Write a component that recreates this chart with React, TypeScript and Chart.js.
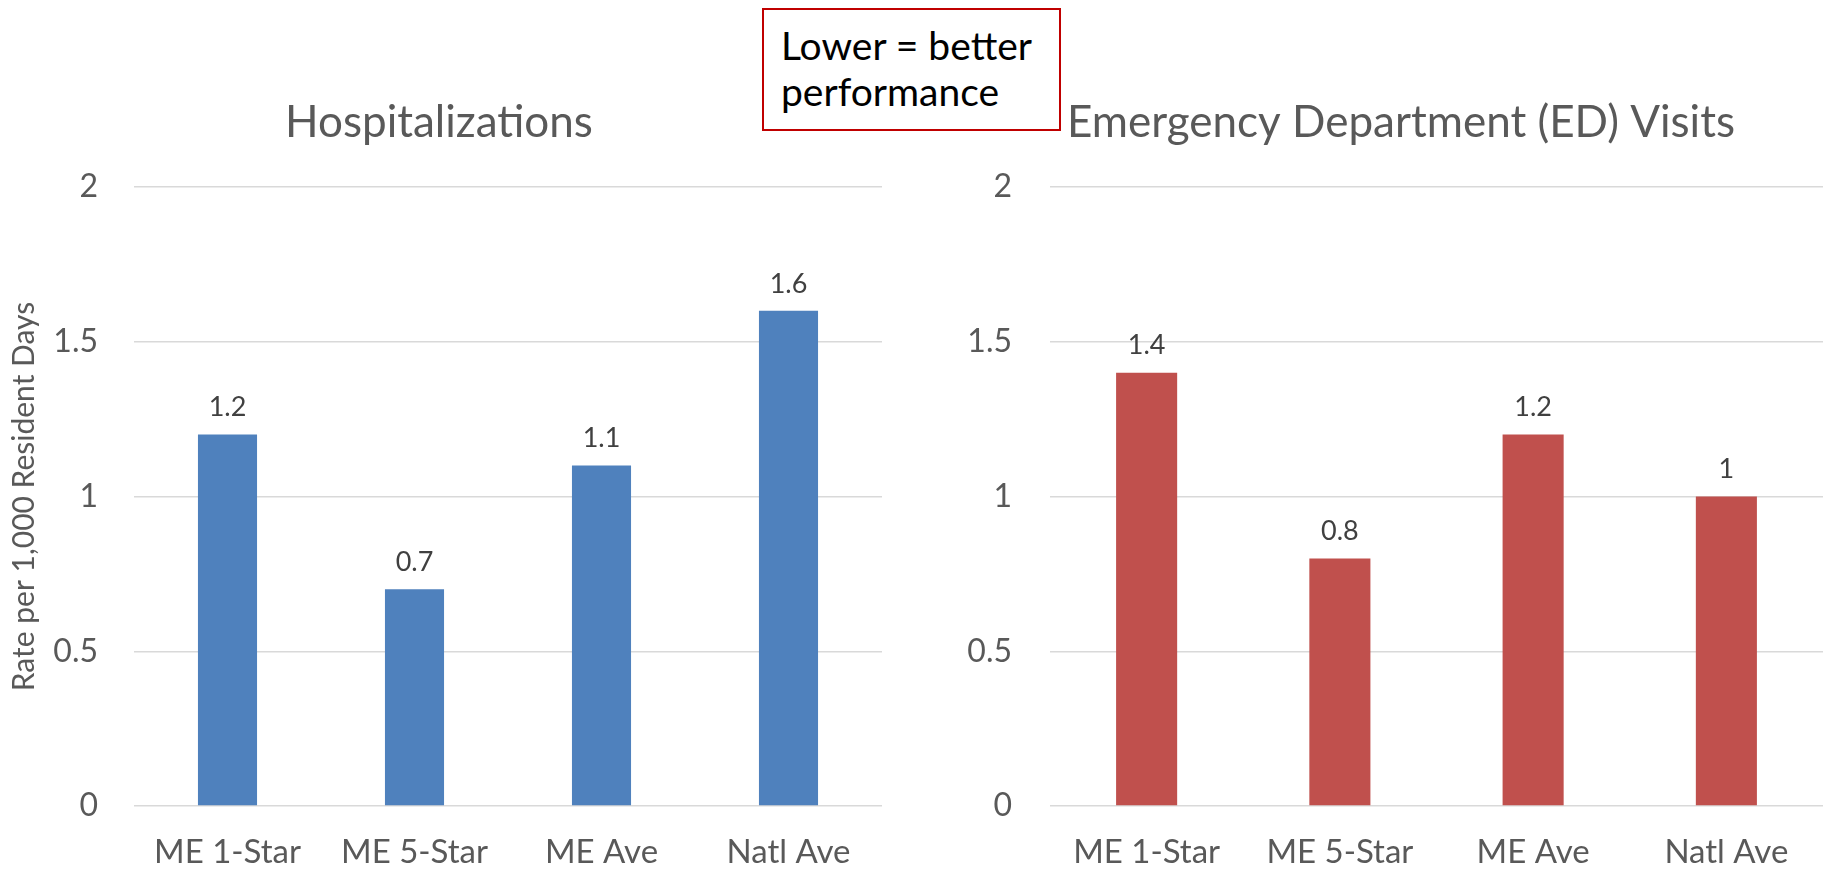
import React, { useEffect, useRef } from 'react';
import { Chart, registerables } from 'chart.js';

Chart.register(...registerables);

const categories = ['ME 1-Star', 'ME 5-Star', 'ME Ave', 'Natl Ave'];
const hospitalizations = [1.2, 0.7, 1.1, 1.6];
const edVisits = [1.4, 0.8, 1.2, 1.0];
const yMin = 0;
const yMax = 2;
const yStep = 0.5;
const leftTitle = 'Hospitalizations';
const rightTitle = 'Emergency Department (ED) Visits';
const yAxisTitle = 'Rate per 1,000 Resident Days';
const noteLines = ['Lower = better', 'performance'];

const FONT = 'Lato, "Open Sans", sans-serif';
const TEXT = '#595959';
const GRID = '#D9D9D9';

const valueLabels = {
  id: 'valueLabels',
  afterDatasetsDraw(chart: any) {
    const { ctx } = chart;
    const meta = chart.getDatasetMeta(0);
    const data = chart.data.datasets[0].data;
    ctx.save();
    ctx.font = `27px ${FONT}`;
    ctx.fillStyle = '#404040';
    ctx.textAlign = 'center';
    ctx.textBaseline = 'middle';
    meta.data.forEach((el: any, i: number) => {
      ctx.fillText(String(data[i]), el.x, el.y - 27);
    });
    ctx.restore();
  },
};

const panelTitle = {
  id: 'panelTitle',
  afterDraw(chart: any, _args: any, opts: any) {
    if (!opts || !opts.text) return;
    const { ctx } = chart;
    ctx.save();
    ctx.font = `${opts.size}px ${FONT}`;
    ctx.fillStyle = TEXT;
    ctx.textAlign = 'center';
    ctx.textBaseline = 'middle';
    ctx.fillText(opts.text, opts.x, opts.y);
    ctx.restore();
  },
};

function makeConfig(
  values: number[],
  color: string,
  title: string,
  titleX: number,
  showYTitle: boolean,
  padRight: number,
  tickPad: number
): any {
  return {
    type: 'bar',
    data: {
      labels: categories,
      datasets: [
        {
          data: values,
          backgroundColor: color,
          borderWidth: 0,
          barPercentage: 0.316,
          categoryPercentage: 1,
        },
      ],
    },
    plugins: [valueLabels, panelTitle],
    options: {
      responsive: false,
      animation: false,
      layout: { padding: { left: 0, right: padRight, top: 187, bottom: 0 } },
      plugins: {
        legend: { display: false },
        tooltip: { enabled: false },
        title: { display: false },
        panelTitle: { text: title, x: titleX, y: 123, size: 44 },
      },
      scales: {
        x: {
          grid: { display: false },
          border: { display: false },
          ticks: { padding: 19, color: TEXT, font: { family: FONT, size: 33 } },
          afterFit: (s: any) => {
            s.height = 63;
          },
        },
        y: {
          min: yMin,
          max: yMax,
          ticks: {
            stepSize: yStep,
            padding: tickPad,
            color: TEXT,
            font: { family: FONT, size: 32 },
            callback: (v: any) => String(v),
          },
          grid: { color: GRID, lineWidth: 1.5, drawTicks: false },
          border: { display: false },
          title: {
            display: showYTitle,
            text: yAxisTitle,
            color: TEXT,
            font: { family: FONT, size: 30 },
            padding: { top: 6, bottom: 0 },
          },
          afterFit: (s: any) => {
            s.width = 134;
          },
        },
      },
    },
  };
}

export default function App() {
  const leftRef = useRef<HTMLCanvasElement>(null);
  const rightRef = useRef<HTMLCanvasElement>(null);

  useEffect(() => {
    const c1 = new Chart(
      leftRef.current as HTMLCanvasElement,
      makeConfig(hospitalizations, '#4F81BD', leftTitle, 439, true, 34, 36)
    );
    const c2 = new Chart(
      rightRef.current as HTMLCanvasElement,
      makeConfig(edVisits, '#C0504D', rightTitle, 1401 - 916, false, 9, 38)
    );
    return () => {
      c1.destroy();
      c2.destroy();
    };
  }, []);

  return (
    <div
      style={{
        position: 'absolute',
        left: 0,
        top: 0,
        width: 1832,
        height: 869,
        background: '#ffffff',
        overflow: 'hidden',
      }}
    >
      <canvas
        ref={leftRef}
        width={916}
        height={869}
        style={{ position: 'absolute', left: 0, top: 0, width: 916, height: 869 }}
      />
      <canvas
        ref={rightRef}
        width={916}
        height={869}
        style={{ position: 'absolute', left: 916, top: 0, width: 916, height: 869 }}
      />
      <div
        style={{
          position: 'absolute',
          left: 762,
          top: 8,
          width: 299,
          height: 123,
          boxSizing: 'border-box',
          border: '2px solid #C00000',
          background: '#ffffff',
          fontFamily: FONT,
          fontSize: 39,
          lineHeight: '46px',
          color: '#000000',
          paddingLeft: 17,
          paddingTop: 12,
          whiteSpace: 'nowrap',
        }}
      >
        {noteLines.map((l) => (
          <div key={l}>{l}</div>
        ))}
      </div>
    </div>
  );
}
